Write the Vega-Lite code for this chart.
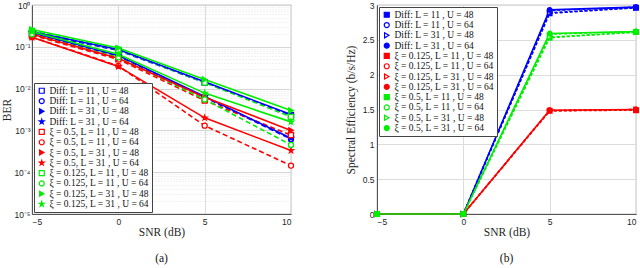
{
  "$schema": "https://vega.github.io/schema/vega-lite/v6.json",
  "padding": {"left": 1, "top": 0, "right": 4, "bottom": 0},
  "background": "white",
  "spacing": 47,
  "config": {
    "view": {"stroke": "#555", "strokeWidth": 0.8},
    "axis": {"labelFont": "Liberation Sans", "labelFontSize": 8.5, "labelColor": "#262626", "titleFont": "Liberation Serif", "titleFontSize": 11.5, "titleFontWeight": "normal", "titleColor": "#262626", "ticks": false, "domainColor": "#555", "gridColor": "#dcdcdc", "labelPadding": 3},
    "legend": {"labelFont": "Liberation Serif", "labelFontSize": 9.5, "labelColor": "#111", "strokeColor": "#444", "fillColor": "white", "padding": 3, "rowPadding": -0.7, "symbolSize": 25, "symbolStrokeWidth": 1.2, "symbolDash": [], "labelOffset": 3, "labelLimit": 200},
    "title": {"font": "Liberation Serif", "fontSize": 11.5, "fontWeight": "normal", "color": "#111"}
  },
  "datasets": {
    "ber": [
      {"series": "Diff: L = 11 , U = 48", "snr": -5, "ber": 0.22}, {"series": "Diff: L = 11 , U = 48", "snr": 0, "ber": 0.082}, {"series": "Diff: L = 11 , U = 48", "snr": 5, "ber": 0.014}, {"series": "Diff: L = 11 , U = 48", "snr": 10, "ber": 0.0023},
      {"series": "Diff: L = 11 , U = 64", "snr": -5, "ber": 0.21}, {"series": "Diff: L = 11 , U = 64", "snr": 0, "ber": 0.06}, {"series": "Diff: L = 11 , U = 64", "snr": 5, "ber": 0.0062}, {"series": "Diff: L = 11 , U = 64", "snr": 10, "ber": 0.00062},
      {"series": "Diff: L = 31 , U = 48", "snr": -5, "ber": 0.23}, {"series": "Diff: L = 31 , U = 48", "snr": 0, "ber": 0.086}, {"series": "Diff: L = 31 , U = 48", "snr": 5, "ber": 0.0145}, {"series": "Diff: L = 31 , U = 48", "snr": 10, "ber": 0.0024},
      {"series": "Diff: L = 31 , U = 64", "snr": -5, "ber": 0.22}, {"series": "Diff: L = 31 , U = 64", "snr": 0, "ber": 0.062}, {"series": "Diff: L = 31 , U = 64", "snr": 5, "ber": 0.0065}, {"series": "Diff: L = 31 , U = 64", "snr": 10, "ber": 0.00065},
      {"series": "ξ = 0.5, L = 11 , U = 48", "snr": -5, "ber": 0.19}, {"series": "ξ = 0.5, L = 11 , U = 48", "snr": 0, "ber": 0.05}, {"series": "ξ = 0.5, L = 11 , U = 48", "snr": 5, "ber": 0.0052}, {"series": "ξ = 0.5, L = 11 , U = 48", "snr": 10, "ber": 0.00077},
      {"series": "ξ = 0.5, L = 11 , U = 64", "snr": -5, "ber": 0.17}, {"series": "ξ = 0.5, L = 11 , U = 64", "snr": 0, "ber": 0.035}, {"series": "ξ = 0.5, L = 11 , U = 64", "snr": 5, "ber": 0.0013}, {"series": "ξ = 0.5, L = 11 , U = 64", "snr": 10, "ber": 0.000144},
      {"series": "ξ = 0.5, L = 31 , U = 48", "snr": -5, "ber": 0.2}, {"series": "ξ = 0.5, L = 31 , U = 48", "snr": 0, "ber": 0.053}, {"series": "ξ = 0.5, L = 31 , U = 48", "snr": 5, "ber": 0.0062}, {"series": "ξ = 0.5, L = 31 , U = 48", "snr": 10, "ber": 0.001},
      {"series": "ξ = 0.5, L = 31 , U = 64", "snr": -5, "ber": 0.17}, {"series": "ξ = 0.5, L = 31 , U = 64", "snr": 0, "ber": 0.034}, {"series": "ξ = 0.5, L = 31 , U = 64", "snr": 5, "ber": 0.002}, {"series": "ξ = 0.5, L = 31 , U = 64", "snr": 10, "ber": 0.00033},
      {"series": "ξ = 0.125, L = 11 , U = 48", "snr": -5, "ber": 0.24}, {"series": "ξ = 0.125, L = 11 , U = 48", "snr": 0, "ber": 0.085}, {"series": "ξ = 0.125, L = 11 , U = 48", "snr": 5, "ber": 0.014}, {"series": "ξ = 0.125, L = 11 , U = 48", "snr": 10, "ber": 0.0021},
      {"series": "ξ = 0.125, L = 11 , U = 64", "snr": -5, "ber": 0.2}, {"series": "ξ = 0.125, L = 11 , U = 64", "snr": 0, "ber": 0.056}, {"series": "ξ = 0.125, L = 11 , U = 64", "snr": 5, "ber": 0.0055}, {"series": "ξ = 0.125, L = 11 , U = 64", "snr": 10, "ber": 0.00045},
      {"series": "ξ = 0.125, L = 31 , U = 48", "snr": -5, "ber": 0.26}, {"series": "ξ = 0.125, L = 31 , U = 48", "snr": 0, "ber": 0.094}, {"series": "ξ = 0.125, L = 31 , U = 48", "snr": 5, "ber": 0.0165}, {"series": "ξ = 0.125, L = 31 , U = 48", "snr": 10, "ber": 0.003},
      {"series": "ξ = 0.125, L = 31 , U = 64", "snr": -5, "ber": 0.23}, {"series": "ξ = 0.125, L = 31 , U = 64", "snr": 0, "ber": 0.066}, {"series": "ξ = 0.125, L = 31 , U = 64", "snr": 5, "ber": 0.0078}, {"series": "ξ = 0.125, L = 31 , U = 64", "snr": 10, "ber": 0.0016}
    ],
    "se": [
      {"series": "Diff: L = 11 , U = 48", "snr": -5, "se": 0}, {"series": "Diff: L = 11 , U = 48", "snr": 0, "se": 0}, {"series": "Diff: L = 11 , U = 48", "snr": 5, "se": 2.88}, {"series": "Diff: L = 11 , U = 48", "snr": 10, "se": 2.96},
      {"series": "Diff: L = 11 , U = 64", "snr": -5, "se": 0}, {"series": "Diff: L = 11 , U = 64", "snr": 0, "se": 0}, {"series": "Diff: L = 11 , U = 64", "snr": 5, "se": 2.92}, {"series": "Diff: L = 11 , U = 64", "snr": 10, "se": 2.97},
      {"series": "Diff: L = 31 , U = 48", "snr": -5, "se": 0}, {"series": "Diff: L = 31 , U = 48", "snr": 0, "se": 0}, {"series": "Diff: L = 31 , U = 48", "snr": 5, "se": 2.89}, {"series": "Diff: L = 31 , U = 48", "snr": 10, "se": 2.96},
      {"series": "Diff: L = 31 , U = 64", "snr": -5, "se": 0}, {"series": "Diff: L = 31 , U = 64", "snr": 0, "se": 0}, {"series": "Diff: L = 31 , U = 64", "snr": 5, "se": 2.93}, {"series": "Diff: L = 31 , U = 64", "snr": 10, "se": 2.97},
      {"series": "ξ = 0.125, L = 11 , U = 48", "snr": -5, "se": 0}, {"series": "ξ = 0.125, L = 11 , U = 48", "snr": 0, "se": 0}, {"series": "ξ = 0.125, L = 11 , U = 48", "snr": 5, "se": 1.48}, {"series": "ξ = 0.125, L = 11 , U = 48", "snr": 10, "se": 1.49},
      {"series": "ξ = 0.125, L = 11 , U = 64", "snr": -5, "se": 0}, {"series": "ξ = 0.125, L = 11 , U = 64", "snr": 0, "se": 0}, {"series": "ξ = 0.125, L = 11 , U = 64", "snr": 5, "se": 1.49}, {"series": "ξ = 0.125, L = 11 , U = 64", "snr": 10, "se": 1.5},
      {"series": "ξ = 0.125, L = 31 , U = 48", "snr": -5, "se": 0}, {"series": "ξ = 0.125, L = 31 , U = 48", "snr": 0, "se": 0}, {"series": "ξ = 0.125, L = 31 , U = 48", "snr": 5, "se": 1.48}, {"series": "ξ = 0.125, L = 31 , U = 48", "snr": 10, "se": 1.5},
      {"series": "ξ = 0.125, L = 31 , U = 64", "snr": -5, "se": 0}, {"series": "ξ = 0.125, L = 31 , U = 64", "snr": 0, "se": 0}, {"series": "ξ = 0.125, L = 31 , U = 64", "snr": 5, "se": 1.49}, {"series": "ξ = 0.125, L = 31 , U = 64", "snr": 10, "se": 1.5},
      {"series": "ξ = 0.5, L = 11 , U = 48", "snr": -5, "se": 0}, {"series": "ξ = 0.5, L = 11 , U = 48", "snr": 0, "se": 0}, {"series": "ξ = 0.5, L = 11 , U = 48", "snr": 5, "se": 2.53}, {"series": "ξ = 0.5, L = 11 , U = 48", "snr": 10, "se": 2.61},
      {"series": "ξ = 0.5, L = 11 , U = 64", "snr": -5, "se": 0}, {"series": "ξ = 0.5, L = 11 , U = 64", "snr": 0, "se": 0}, {"series": "ξ = 0.5, L = 11 , U = 64", "snr": 5, "se": 2.58}, {"series": "ξ = 0.5, L = 11 , U = 64", "snr": 10, "se": 2.62},
      {"series": "ξ = 0.5, L = 31 , U = 48", "snr": -5, "se": 0}, {"series": "ξ = 0.5, L = 31 , U = 48", "snr": 0, "se": 0}, {"series": "ξ = 0.5, L = 31 , U = 48", "snr": 5, "se": 2.54}, {"series": "ξ = 0.5, L = 31 , U = 48", "snr": 10, "se": 2.61},
      {"series": "ξ = 0.5, L = 31 , U = 64", "snr": -5, "se": 0}, {"series": "ξ = 0.5, L = 31 , U = 64", "snr": 0, "se": 0}, {"series": "ξ = 0.5, L = 31 , U = 64", "snr": 5, "se": 2.59}, {"series": "ξ = 0.5, L = 31 , U = 64", "snr": 10, "se": 2.62}
    ]
  },
  "resolve": {"scale": {"color": "independent", "shape": "independent", "fill": "independent"}, "legend": {"color": "independent", "shape": "independent", "fill": "independent"}},
  "hconcat": [
    {
      "width": 259, "height": 209,
      "title": {"text": "(a)", "orient": "bottom", "anchor": "middle", "frame": "group", "offset": 15},
      "data": {"name": "ber"},
      "encoding": {
        "x": {"field": "snr", "type": "quantitative", "scale": {"domain": [-5, 10], "nice": false}, "axis": {"values": [-5, 0, 5, 10], "title": "SNR (dB)", "titlePadding": 1}},
        "y": {"field": "ber", "type": "quantitative", "scale": {"type": "log", "domain": [0.00001, 1], "nice": false},
          "axis": {"title": "BER", "titlePadding": 1, "labelPadding": 2,
            "values": [0.00001,0.00002,0.00003,0.00004,0.00005,0.00006,0.00007,0.00008,0.00009,0.0001,0.0002,0.0003,0.0004,0.0005,0.0006,0.0007,0.0008,0.0009,0.001,0.002,0.003,0.004,0.005,0.006,0.007,0.008,0.009,0.01,0.02,0.03,0.04,0.05,0.06,0.07,0.08,0.09,0.1,0.2,0.3,0.4,0.5,0.6,0.7,0.8,0.9,1],
            "labelExpr": "abs(log(datum.value)/LN10 - round(log(datum.value)/LN10)) > 0.001 ? '' : (round(log(datum.value)/LN10) == 0 ? '10⁰' : round(log(datum.value)/LN10) == -1 ? '10⁻¹' : round(log(datum.value)/LN10) == -2 ? '10⁻²' : round(log(datum.value)/LN10) == -3 ? '10⁻³' : round(log(datum.value)/LN10) == -4 ? '10⁻⁴' : '10⁻⁵')",
            "gridDash": {"condition": {"test": "abs(log(datum.value)/LN10 - round(log(datum.value)/LN10)) < 0.001", "value": []}, "value": [1, 2]},
            "gridColor": {"condition": {"test": "abs(log(datum.value)/LN10 - round(log(datum.value)/LN10)) < 0.001", "value": "#d6d6d6"}, "value": "#e4e4e4"}
          }},
        "color": {"field": "series", "type": "nominal", "title": null,
          "scale": {"domain": ["Diff: L = 11 , U = 48", "Diff: L = 11 , U = 64", "Diff: L = 31 , U = 48", "Diff: L = 31 , U = 64", "ξ = 0.5, L = 11 , U = 48", "ξ = 0.5, L = 11 , U = 64", "ξ = 0.5, L = 31 , U = 48", "ξ = 0.5, L = 31 , U = 64", "ξ = 0.125, L = 11 , U = 48", "ξ = 0.125, L = 11 , U = 64", "ξ = 0.125, L = 31 , U = 48", "ξ = 0.125, L = 31 , U = 64"],
            "range": ["#0000ff", "#0000ff", "#0000ff", "#0000ff", "#ff0000", "#ff0000", "#ff0000", "#ff0000", "#00ee00", "#00ee00", "#00ee00", "#00ee00"]},
          "legend": {"orient": "bottom-left", "offset": 2, "symbolDash": []}}
      },
      "layer": [
        {"transform": [{"filter": "indexof(datum.series, 'L = 11') >= 0"}],
          "mark": {"type": "line", "strokeWidth": 1.6, "strokeDash": [5, 3]}},
        {"transform": [{"filter": "indexof(datum.series, 'L = 31') >= 0"}],
          "mark": {"type": "line", "strokeWidth": 1.6}},
        {"mark": {"type": "point", "filled": false, "opacity": 1, "strokeWidth": 1.3, "size": 26},
          "encoding": {
            "shape": {"field": "series", "type": "nominal",
              "scale": {"domain": ["Diff: L = 11 , U = 48", "Diff: L = 11 , U = 64", "Diff: L = 31 , U = 48", "Diff: L = 31 , U = 64", "ξ = 0.5, L = 11 , U = 48", "ξ = 0.5, L = 11 , U = 64", "ξ = 0.5, L = 31 , U = 48", "ξ = 0.5, L = 31 , U = 64", "ξ = 0.125, L = 11 , U = 48", "ξ = 0.125, L = 11 , U = 64", "ξ = 0.125, L = 31 , U = 48", "ξ = 0.125, L = 31 , U = 64"],
                "range": ["square", "circle", "triangle-right", "M0,-1L0.2245,-0.309L0.951,-0.309L0.363,0.118L0.588,0.809L0,0.382L-0.588,0.809L-0.363,0.118L-0.951,-0.309L-0.2245,-0.309Z", "square", "circle", "triangle-right", "M0,-1L0.2245,-0.309L0.951,-0.309L0.363,0.118L0.588,0.809L0,0.382L-0.588,0.809L-0.363,0.118L-0.951,-0.309L-0.2245,-0.309Z", "square", "circle", "triangle-right", "M0,-1L0.2245,-0.309L0.951,-0.309L0.363,0.118L0.588,0.809L0,0.382L-0.588,0.809L-0.363,0.118L-0.951,-0.309L-0.2245,-0.309Z"]}},
            "fill": {"field": "series", "type": "nominal",
              "scale": {"domain": ["Diff: L = 11 , U = 48", "Diff: L = 11 , U = 64", "Diff: L = 31 , U = 48", "Diff: L = 31 , U = 64", "ξ = 0.5, L = 11 , U = 48", "ξ = 0.5, L = 11 , U = 64", "ξ = 0.5, L = 31 , U = 48", "ξ = 0.5, L = 31 , U = 64", "ξ = 0.125, L = 11 , U = 48", "ξ = 0.125, L = 11 , U = 64", "ξ = 0.125, L = 31 , U = 48", "ξ = 0.125, L = 31 , U = 64"],
                "range": ["white", "white", "#0000ff", "#0000ff", "white", "white", "#ff0000", "#ff0000", "white", "white", "#00ee00", "#00ee00"]}}
          }}
      ]
    },
    {
      "width": 259, "height": 209,
      "title": {"text": "(b)", "orient": "bottom", "anchor": "middle", "frame": "group", "offset": 15},
      "data": {"name": "se"},
      "encoding": {
        "x": {"field": "snr", "type": "quantitative", "scale": {"domain": [-5, 10], "nice": false}, "axis": {"values": [-5, 0, 5, 10], "title": "SNR (dB)", "titlePadding": 1}},
        "y": {"field": "se", "type": "quantitative", "scale": {"domain": [0, 3], "nice": false},
          "axis": {"title": "Spectral Efficiency (b/s/Hz)", "titlePadding": 6, "values": [0, 0.5, 1, 1.5, 2, 2.5, 3], "labelExpr": "format(datum.value, '~g')"}},
        "color": {"field": "series", "type": "nominal", "title": null,
          "scale": {"domain": ["Diff: L = 11 , U = 48", "Diff: L = 11 , U = 64", "Diff: L = 31 , U = 48", "Diff: L = 31 , U = 64", "ξ = 0.125, L = 11 , U = 48", "ξ = 0.125, L = 11 , U = 64", "ξ = 0.125, L = 31 , U = 48", "ξ = 0.125, L = 31 , U = 64", "ξ = 0.5, L = 11 , U = 48", "ξ = 0.5, L = 11 , U = 64", "ξ = 0.5, L = 31 , U = 48", "ξ = 0.5, L = 31 , U = 64"],
            "range": ["#0000ff", "#0000ff", "#0000ff", "#0000ff", "#ff0000", "#ff0000", "#ff0000", "#ff0000", "#00ee00", "#00ee00", "#00ee00", "#00ee00"]},
          "legend": {"orient": "top-left", "offset": 2, "symbolDash": []}}
      },
      "layer": [
        {"transform": [{"filter": "indexof(datum.series, 'U = 48') >= 0 || indexof(datum.series, 'L = 11') >= 0"}],
          "mark": {"type": "line", "strokeWidth": 1.4, "strokeDash": [3, 2]}},
        {"transform": [{"filter": "indexof(datum.series, 'L = 31 , U = 64') >= 0"}],
          "mark": {"type": "line", "strokeWidth": 1.6}},
        {"mark": {"type": "point", "filled": false, "opacity": 1, "strokeWidth": 1.2, "size": 22},
          "encoding": {
            "shape": {"field": "series", "type": "nominal",
              "scale": {"domain": ["Diff: L = 11 , U = 48", "Diff: L = 11 , U = 64", "Diff: L = 31 , U = 48", "Diff: L = 31 , U = 64", "ξ = 0.125, L = 11 , U = 48", "ξ = 0.125, L = 11 , U = 64", "ξ = 0.125, L = 31 , U = 48", "ξ = 0.125, L = 31 , U = 64", "ξ = 0.5, L = 11 , U = 48", "ξ = 0.5, L = 11 , U = 64", "ξ = 0.5, L = 31 , U = 48", "ξ = 0.5, L = 31 , U = 64"],
                "range": ["square", "circle", "triangle-right", "circle", "square", "circle", "triangle-right", "circle", "square", "circle", "triangle-right", "circle"]}},
            "fill": {"field": "series", "type": "nominal",
              "scale": {"domain": ["Diff: L = 11 , U = 48", "Diff: L = 11 , U = 64", "Diff: L = 31 , U = 48", "Diff: L = 31 , U = 64", "ξ = 0.125, L = 11 , U = 48", "ξ = 0.125, L = 11 , U = 64", "ξ = 0.125, L = 31 , U = 48", "ξ = 0.125, L = 31 , U = 64", "ξ = 0.5, L = 11 , U = 48", "ξ = 0.5, L = 11 , U = 64", "ξ = 0.5, L = 31 , U = 48", "ξ = 0.5, L = 31 , U = 64"],
                "range": ["#0000ff", "white", "white", "#0000ff", "#ff0000", "white", "white", "#ff0000", "#00ee00", "white", "white", "#00ee00"]}}
          }}
      ]
    }
  ]
}
